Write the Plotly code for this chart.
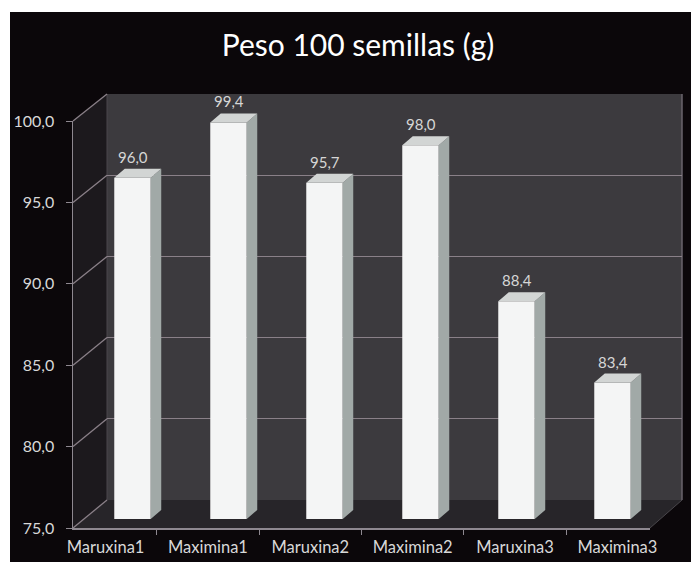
import plotly.graph_objects as go

categories = ["Maruxina1", "Maximina1", "Maruxina2", "Maximina2", "Maruxina3", "Maximina3"]
values = [96.0, 99.4, 95.7, 98.0, 88.4, 83.4]
y_ticks = [75, 80, 85, 90, 95, 100]
title_text = "Peso 100 semillas (g)"

W, H = 691, 562
FONT = "Lato"
GRID = "#8a8088"

def px(x):
    return x / W

def py(y):
    return 1 - y / H

# pixel geometry of the pseudo-3D frame
FRONT_L, FRONT_R, FRONT_B, FRONT_T = 73, 650, 528, 121
BACK_L, BACK_R, BACK_B, BACK_T = 107, 682, 500, 94
BAR_L, BAR_R, BAR_B = 84.5, 660.5, 519
PX_PER_UNIT = 16.25
ymin, ymax = y_ticks[0], y_ticks[-1]
bar_top_val = ymin + (BAR_B - 88) / PX_PER_UNIT

def yfront(v):
    return FRONT_B - (v - ymin) / (ymax - ymin) * (FRONT_B - FRONT_T)

def yback(v):
    return BACK_B - (v - ymin) / (ymax - ymin) * (BACK_B - BACK_T)

positions = list(range(len(categories)))
bw = 0.38
dx = 10.5 / ((BAR_R - BAR_L) / len(categories))
dy = 9 / PX_PER_UNIT

fig = go.Figure()

# subplot 1: back wall grid
fig.add_trace(go.Scatter(x=categories, y=values, xaxis="x", yaxis="y", mode="markers",
                         marker=dict(opacity=0), hoverinfo="skip", showlegend=False))
# subplot 2: front axes
fig.add_trace(go.Scatter(x=categories, y=values, xaxis="x2", yaxis="y2", mode="markers",
                         marker=dict(opacity=0), hoverinfo="skip", showlegend=False))
# subplot 3: bars
fig.add_trace(go.Bar(x=positions, y=[v - ymin for v in values], base=ymin, width=bw,
                     xaxis="x3", yaxis="y3", marker=dict(color="#f4f5f5", line=dict(width=0)),
                     hoverinfo="skip", showlegend=False))
sx, sy, tx, ty = [], [], [], []
for i, v in zip(positions, values):
    r = i + bw / 2
    l = i - bw / 2
    sx += [r, r + dx, r + dx, r, r, None]
    sy += [ymin, ymin + dy, v + dy, v, ymin, None]
    tx += [l, r, r + dx, l + dx, l, None]
    ty += [v, v, v + dy, v + dy, v, None]
fig.add_trace(go.Scatter(x=sx, y=sy, xaxis="x3", yaxis="y3", mode="lines", fill="toself",
                         fillcolor="#a1a9a7", line=dict(width=0, color="#a1a9a7"),
                         hoverinfo="skip", showlegend=False))
fig.add_trace(go.Scatter(x=tx, y=ty, xaxis="x3", yaxis="y3", mode="lines", fill="toself",
                         fillcolor="#d2d5d4", line=dict(width=0, color="#d2d5d4"),
                         hoverinfo="skip", showlegend=False))

annotations = []
for i, v in zip(positions, values):
    annotations.append(dict(x=i, y=v + dy, xref="x3", yref="y3", text=f"{v:.1f}".replace(".", ","),
                            showarrow=False, yanchor="bottom", yshift=1,
                            font=dict(family=FONT, size=15, color="#d6d6d6")))

shapes = [
    dict(type="rect", xref="paper", yref="paper", x0=px(10), x1=1, y0=0, y1=py(12),
         fillcolor="#0b070a", line=dict(width=0), layer="below"),
    dict(type="path", xref="paper", yref="paper",
         path=f"M {px(FRONT_L)},{py(FRONT_T)} L {px(BACK_L)},{py(BACK_T)} L {px(BACK_L)},{py(BACK_B)} L {px(FRONT_L)},{py(FRONT_B)} Z",
         fillcolor="#1c191d", line=dict(width=0), layer="below"),
    dict(type="path", xref="paper", yref="paper",
         path=f"M {px(FRONT_L)},{py(FRONT_B)} L {px(BACK_L)},{py(BACK_B)} L {px(BACK_R)},{py(BACK_B)} L {px(FRONT_R)},{py(FRONT_B)} Z",
         fillcolor="#272529", line=dict(width=0), layer="below"),
    dict(type="rect", xref="x domain", yref="y domain", x0=0, x1=1, y0=0, y1=1,
         fillcolor="#3c3a3e", line=dict(width=0), layer="below"),
    dict(type="line", xref="paper", yref="paper", x0=px(BACK_R), x1=px(BACK_R), y0=py(BACK_B), y1=py(BACK_T),
         line=dict(color="#6a646c", width=1.5), layer="below"),
    dict(type="line", xref="paper", yref="paper", x0=px(BACK_L), x1=px(BACK_L), y0=py(BACK_B), y1=py(BACK_T),
         line=dict(color="#4a474c", width=1), layer="below"),
    dict(type="line", xref="paper", yref="paper", x0=px(FRONT_R), x1=px(BACK_R), y0=py(FRONT_B), y1=py(BACK_B),
         line=dict(color="#4a474c", width=1), layer="below"),
]
for v in y_ticks:
    shapes.append(dict(type="line", xref="paper", yref="paper", x0=px(FRONT_L), x1=px(BACK_L),
                       y0=py(yfront(v)), y1=py(yback(v)), line=dict(color=GRID, width=1.3), layer="below"))

fig.update_layout(
    width=W, height=H, autosize=False,
    margin=dict(l=0, r=0, t=0, b=0, pad=0, autoexpand=False),
    paper_bgcolor="#ffffff", plot_bgcolor="rgba(0,0,0,0)",
    separators=", ",
    title=dict(text=title_text, x=px(358), y=py(45), xanchor="center", yanchor="middle",
               font=dict(family=FONT, size=30, color="#ffffff"), automargin=False),
    xaxis=dict(domain=[px(BACK_L), px(BACK_R)], anchor="y", visible=False, type="category",
               categoryorder="array", categoryarray=categories, automargin=False),
    yaxis=dict(domain=[py(BACK_B), py(BACK_T)], anchor="x", range=[ymin, ymax], tickvals=y_ticks,
               showgrid=True, gridcolor=GRID, gridwidth=1.3, showticklabels=False, ticks="",
               zeroline=False, showline=False, automargin=False),
    xaxis2=dict(domain=[px(FRONT_L), px(FRONT_R)], anchor="y2", type="category",
                categoryorder="array", categoryarray=categories, showline=True, linecolor="#8e8890",
                linewidth=1.5, tickson="boundaries", ticks="outside", ticklen=5, tickcolor="#8e8890",
                showgrid=False, zeroline=False, ticklabelstandoff=4, automargin=False,
                tickfont=dict(family=FONT, size=16.5, color="#d8d8d8")),
    yaxis2=dict(domain=[py(FRONT_B), py(FRONT_T)], anchor="x2", range=[ymin, ymax], tickvals=y_ticks,
                tickformat=".1f", showline=True, linecolor="#8e8890", linewidth=1.5, ticks="outside",
                ticklen=6, tickcolor="#8e8890", showgrid=False, zeroline=False, ticklabelstandoff=8,
                automargin=False, tickfont=dict(family=FONT, size=16, color="#d8d8d8")),
    xaxis3=dict(domain=[px(BAR_L), px(BAR_R)], anchor="y3", range=[-0.5, len(categories) - 0.5],
                visible=False, automargin=False),
    yaxis3=dict(domain=[py(BAR_B), py(88)], anchor="x3", range=[ymin, bar_top_val], visible=False,
                automargin=False),
    shapes=shapes,
    annotations=annotations,
    showlegend=False,
)

fig.write_html("out.html", config={"displayModeBar": False, "staticPlot": True},
               post_script="document.body.style.margin='0';")
